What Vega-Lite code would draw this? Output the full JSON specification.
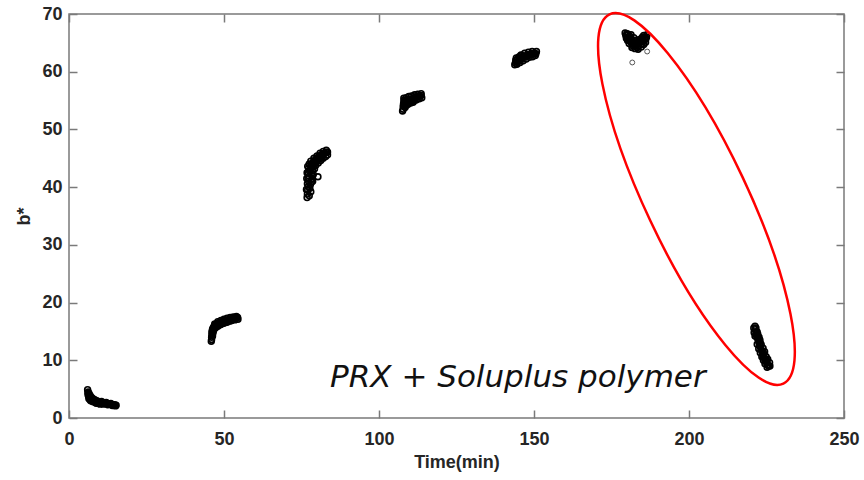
{
  "$schema": "https://vega.github.io/schema/vega-lite/v6.json",
  "width": 775,
  "height": 404,
  "autosize": {"type": "none"},
  "padding": {"left": 69, "top": 14, "right": 20, "bottom": 62},
  "background": "white",
  "config": {
    "view": {"stroke": "#7a7a7a", "strokeWidth": 1.5},
    "axis": {
      "grid": false,
      "domain": false,
      "labelFont": "Liberation Sans",
      "labelFontWeight": "bold",
      "labelFontSize": 18,
      "labelColor": "#262626",
      "labelFlush": false,
      "titleFont": "Liberation Sans",
      "titleFontWeight": "bold",
      "titleFontSize": 18,
      "titleColor": "#262626",
      "tickColor": "#7a7a7a",
      "tickWidth": 1.5,
      "tickSize": -8
    }
  },
  "datasets": {
    "pts": [
      {"t": 6.0, "b": 4.9}, {"t": 6.1, "b": 4.3}, {"t": 6.2, "b": 4.0}, {"t": 6.3, "b": 3.8}, {"t": 6.5, "b": 3.9}, {"t": 6.6, "b": 3.6}, {"t": 6.8, "b": 3.5}, {"t": 7.0, "b": 3.4}, {"t": 7.2, "b": 3.3}, {"t": 7.4, "b": 3.2}, {"t": 7.6, "b": 3.1}, {"t": 7.8, "b": 3.2}, {"t": 8.0, "b": 3.0}, {"t": 8.3, "b": 2.9}, {"t": 8.6, "b": 2.95}, {"t": 8.9, "b": 2.8}, {"t": 9.2, "b": 2.85}, {"t": 9.5, "b": 2.7}, {"t": 9.8, "b": 2.75}, {"t": 10.1, "b": 2.65}, {"t": 10.4, "b": 2.7}, {"t": 10.7, "b": 2.6}, {"t": 11.0, "b": 2.6}, {"t": 11.3, "b": 2.55}, {"t": 11.6, "b": 2.5}, {"t": 11.9, "b": 2.55}, {"t": 12.2, "b": 2.45}, {"t": 12.5, "b": 2.5}, {"t": 12.8, "b": 2.4}, {"t": 13.1, "b": 2.4}, {"t": 13.4, "b": 2.35}, {"t": 13.7, "b": 2.35}, {"t": 14.0, "b": 2.3}, {"t": 14.3, "b": 2.3}, {"t": 14.6, "b": 2.25}, {"t": 14.9, "b": 2.25}, {"t": 15.2, "b": 2.2}, {"t": 6.4, "b": 3.4}, {"t": 7.0, "b": 3.0}, {"t": 7.8, "b": 2.8}, {"t": 8.8, "b": 2.55}, {"t": 10.0, "b": 2.4},
      {"t": 6.2, "b": 4.5}, {"t": 6.5, "b": 4.2}, {"t": 6.8, "b": 3.9}, {"t": 7.2, "b": 3.6}, {"t": 7.6, "b": 3.4}, {"t": 8.2, "b": 3.2}, {"t": 9.0, "b": 3.0}, {"t": 10.5, "b": 2.85}, {"t": 12.0, "b": 2.7}, {"t": 13.5, "b": 2.5}, {"t": 6.7, "b": 3.2}, {"t": 7.4, "b": 2.95}, {"t": 8.5, "b": 2.7}, {"t": 9.5, "b": 2.55}, {"t": 11.0, "b": 2.4}, {"t": 12.5, "b": 2.3}, {"t": 14.0, "b": 2.15}, {"t": 15.0, "b": 2.1},
      {"t": 46.0, "b": 13.6}, {"t": 46.0, "b": 14.0}, {"t": 46.1, "b": 14.4}, {"t": 46.1, "b": 14.8}, {"t": 46.2, "b": 15.1}, {"t": 46.3, "b": 15.4}, {"t": 46.5, "b": 15.6}, {"t": 46.7, "b": 15.8}, {"t": 47.0, "b": 15.9}, {"t": 47.3, "b": 16.1}, {"t": 47.6, "b": 16.2}, {"t": 48.0, "b": 16.3}, {"t": 48.4, "b": 16.5}, {"t": 48.8, "b": 16.5}, {"t": 49.2, "b": 16.7}, {"t": 49.6, "b": 16.7}, {"t": 50.0, "b": 16.8}, {"t": 50.4, "b": 16.9}, {"t": 50.8, "b": 16.9}, {"t": 51.2, "b": 17.0}, {"t": 51.6, "b": 17.0}, {"t": 52.0, "b": 17.1}, {"t": 52.4, "b": 17.1}, {"t": 52.8, "b": 17.2}, {"t": 53.2, "b": 17.2}, {"t": 53.6, "b": 17.3}, {"t": 54.0, "b": 17.3}, {"t": 54.4, "b": 17.4}, {"t": 46.6, "b": 15.2}, {"t": 47.2, "b": 15.6}, {"t": 48.0, "b": 15.9}, {"t": 49.0, "b": 16.2}, {"t": 50.0, "b": 16.4}, {"t": 51.0, "b": 16.6}, {"t": 52.0, "b": 16.8},
      {"t": 45.9, "b": 13.3}, {"t": 46.3, "b": 14.2}, {"t": 46.4, "b": 14.7}, {"t": 46.5, "b": 15.0}, {"t": 46.8, "b": 15.4}, {"t": 47.5, "b": 15.8}, {"t": 48.5, "b": 16.1}, {"t": 49.5, "b": 16.4}, {"t": 50.5, "b": 16.6}, {"t": 51.5, "b": 16.8}, {"t": 52.5, "b": 16.9}, {"t": 53.5, "b": 17.0}, {"t": 54.5, "b": 17.1}, {"t": 47.0, "b": 16.3}, {"t": 48.0, "b": 16.7}, {"t": 49.0, "b": 16.9}, {"t": 50.0, "b": 17.1}, {"t": 51.0, "b": 17.3}, {"t": 52.0, "b": 17.4}, {"t": 53.0, "b": 17.5}, {"t": 54.0, "b": 17.6},
      {"t": 76.8, "b": 38.2}, {"t": 76.9, "b": 38.8}, {"t": 77.0, "b": 39.5}, {"t": 77.2, "b": 40.1}, {"t": 76.9, "b": 40.6}, {"t": 77.3, "b": 41.0}, {"t": 77.1, "b": 41.6}, {"t": 77.5, "b": 41.9}, {"t": 77.2, "b": 42.4}, {"t": 77.6, "b": 42.8}, {"t": 77.3, "b": 43.3}, {"t": 77.8, "b": 43.0}, {"t": 78.0, "b": 43.7}, {"t": 77.5, "b": 44.0}, {"t": 78.2, "b": 42.3}, {"t": 78.4, "b": 41.5}, {"t": 77.9, "b": 40.5}, {"t": 78.3, "b": 43.9}, {"t": 78.6, "b": 44.2}, {"t": 79.0, "b": 44.5}, {"t": 79.4, "b": 44.7}, {"t": 79.8, "b": 44.9}, {"t": 80.2, "b": 45.1}, {"t": 80.6, "b": 45.3}, {"t": 81.0, "b": 45.4}, {"t": 81.4, "b": 45.6}, {"t": 81.8, "b": 45.7}, {"t": 82.2, "b": 45.8}, {"t": 82.6, "b": 45.9}, {"t": 83.0, "b": 46.0}, {"t": 83.4, "b": 46.1}, {"t": 79.2, "b": 44.0}, {"t": 80.0, "b": 44.5}, {"t": 80.8, "b": 44.9}, {"t": 81.6, "b": 45.2}, {"t": 78.8, "b": 43.5}, {"t": 78.5, "b": 42.8}, {"t": 78.0, "b": 39.2}, {"t": 80.3, "b": 41.8},
      {"t": 77.5, "b": 38.5}, {"t": 77.7, "b": 39.8}, {"t": 78.2, "b": 40.9}, {"t": 76.6, "b": 39.6}, {"t": 76.7, "b": 41.5}, {"t": 76.8, "b": 42.5}, {"t": 77.0, "b": 43.6}, {"t": 78.6, "b": 41.0}, {"t": 78.8, "b": 42.2}, {"t": 79.2, "b": 43.2}, {"t": 79.6, "b": 43.8}, {"t": 80.4, "b": 44.2}, {"t": 81.2, "b": 44.6}, {"t": 82.0, "b": 45.0}, {"t": 82.8, "b": 45.3}, {"t": 83.4, "b": 45.6}, {"t": 78.0, "b": 44.5}, {"t": 79.0, "b": 45.0}, {"t": 80.0, "b": 45.4}, {"t": 81.0, "b": 45.9}, {"t": 82.0, "b": 46.2}, {"t": 83.0, "b": 46.4},
      {"t": 107.8, "b": 53.5}, {"t": 107.8, "b": 54.0}, {"t": 107.9, "b": 54.4}, {"t": 108.0, "b": 54.8}, {"t": 108.3, "b": 54.2}, {"t": 108.5, "b": 54.9}, {"t": 108.7, "b": 54.5}, {"t": 109.0, "b": 55.0}, {"t": 109.3, "b": 54.8}, {"t": 109.6, "b": 55.2}, {"t": 110.0, "b": 55.1}, {"t": 110.4, "b": 55.3}, {"t": 110.8, "b": 55.3}, {"t": 111.2, "b": 55.5}, {"t": 111.6, "b": 55.5}, {"t": 112.0, "b": 55.6}, {"t": 112.4, "b": 55.7}, {"t": 112.8, "b": 55.7}, {"t": 113.2, "b": 55.8}, {"t": 113.6, "b": 55.9}, {"t": 109.8, "b": 54.7}, {"t": 110.6, "b": 54.9}, {"t": 111.4, "b": 55.1}, {"t": 108.2, "b": 55.1},
      {"t": 107.6, "b": 53.2}, {"t": 108.4, "b": 53.8}, {"t": 108.9, "b": 54.2}, {"t": 109.5, "b": 54.4}, {"t": 110.2, "b": 54.6}, {"t": 111.0, "b": 54.7}, {"t": 112.0, "b": 55.1}, {"t": 113.0, "b": 55.3}, {"t": 113.8, "b": 55.5}, {"t": 108.0, "b": 55.4}, {"t": 108.8, "b": 55.5}, {"t": 109.6, "b": 55.7}, {"t": 110.5, "b": 55.8}, {"t": 111.5, "b": 56.0}, {"t": 112.5, "b": 56.1}, {"t": 113.6, "b": 56.2},
      {"t": 144.0, "b": 61.5}, {"t": 144.1, "b": 62.0}, {"t": 144.4, "b": 61.7}, {"t": 144.7, "b": 62.2}, {"t": 145.0, "b": 61.9}, {"t": 145.4, "b": 62.3}, {"t": 145.8, "b": 62.2}, {"t": 146.2, "b": 62.5}, {"t": 146.6, "b": 62.5}, {"t": 147.0, "b": 62.7}, {"t": 147.4, "b": 62.7}, {"t": 147.8, "b": 62.9}, {"t": 148.2, "b": 62.9}, {"t": 148.6, "b": 63.0}, {"t": 149.0, "b": 63.0}, {"t": 149.4, "b": 63.1}, {"t": 149.8, "b": 63.1}, {"t": 150.2, "b": 63.2}, {"t": 150.6, "b": 63.1}, {"t": 145.2, "b": 62.6}, {"t": 146.0, "b": 62.8},
      {"t": 143.8, "b": 61.2}, {"t": 144.5, "b": 61.3}, {"t": 145.5, "b": 61.6}, {"t": 146.5, "b": 61.9}, {"t": 147.5, "b": 62.2}, {"t": 148.5, "b": 62.5}, {"t": 149.5, "b": 62.6}, {"t": 150.4, "b": 62.8}, {"t": 144.3, "b": 62.4}, {"t": 145.8, "b": 62.9}, {"t": 147.0, "b": 63.2}, {"t": 148.2, "b": 63.4}, {"t": 149.4, "b": 63.5}, {"t": 150.8, "b": 63.5},
      {"t": 179.6, "b": 66.3}, {"t": 179.8, "b": 65.8}, {"t": 180.2, "b": 66.0}, {"t": 180.5, "b": 65.5}, {"t": 180.8, "b": 65.8}, {"t": 181.1, "b": 65.3}, {"t": 181.4, "b": 65.0}, {"t": 181.6, "b": 65.5}, {"t": 182.0, "b": 64.9}, {"t": 182.3, "b": 64.6}, {"t": 182.6, "b": 64.9}, {"t": 183.0, "b": 64.5}, {"t": 183.3, "b": 64.8}, {"t": 183.6, "b": 64.4}, {"t": 184.0, "b": 64.9}, {"t": 184.3, "b": 65.2}, {"t": 184.6, "b": 64.8}, {"t": 184.9, "b": 65.4}, {"t": 185.2, "b": 65.6}, {"t": 185.5, "b": 65.3}, {"t": 185.8, "b": 65.9}, {"t": 186.1, "b": 65.7}, {"t": 186.3, "b": 66.0}, {"t": 180.0, "b": 66.6}, {"t": 181.0, "b": 66.1}, {"t": 182.5, "b": 65.4}, {"t": 184.0, "b": 65.6}, {"t": 185.0, "b": 66.0}, {"t": 181.8, "b": 64.5}, {"t": 183.4, "b": 64.2},
      {"t": 179.4, "b": 66.7}, {"t": 180.3, "b": 66.5}, {"t": 181.3, "b": 66.4}, {"t": 182.2, "b": 65.9}, {"t": 183.0, "b": 65.4}, {"t": 183.8, "b": 65.2}, {"t": 184.6, "b": 65.7}, {"t": 185.4, "b": 66.3}, {"t": 186.4, "b": 66.4}, {"t": 180.7, "b": 64.9}, {"t": 181.6, "b": 64.2}, {"t": 182.6, "b": 64.0}, {"t": 183.6, "b": 63.9}, {"t": 184.6, "b": 64.3}, {"t": 185.4, "b": 64.7}, {"t": 186.0, "b": 65.1}, {"t": 180.2, "b": 65.4},
      {"t": 221.3, "b": 15.9}, {"t": 221.4, "b": 15.3}, {"t": 221.6, "b": 14.8}, {"t": 221.8, "b": 14.3}, {"t": 222.0, "b": 13.9}, {"t": 222.3, "b": 13.6}, {"t": 222.5, "b": 13.2}, {"t": 222.7, "b": 12.8}, {"t": 222.9, "b": 12.4}, {"t": 223.2, "b": 12.0}, {"t": 223.5, "b": 11.6}, {"t": 223.7, "b": 11.2}, {"t": 223.9, "b": 10.8}, {"t": 224.2, "b": 10.5}, {"t": 224.5, "b": 10.1}, {"t": 224.8, "b": 9.8}, {"t": 225.1, "b": 9.5}, {"t": 225.4, "b": 9.2}, {"t": 225.7, "b": 9.0}, {"t": 222.0, "b": 14.9}, {"t": 223.0, "b": 13.0}, {"t": 224.0, "b": 11.3}, {"t": 225.0, "b": 10.0}, {"t": 221.6, "b": 15.6}, {"t": 222.2, "b": 14.5},
      {"t": 220.9, "b": 15.6}, {"t": 221.0, "b": 14.8}, {"t": 221.3, "b": 14.2}, {"t": 222.6, "b": 14.0}, {"t": 222.9, "b": 13.5}, {"t": 223.3, "b": 12.7}, {"t": 223.9, "b": 12.1}, {"t": 224.4, "b": 11.5}, {"t": 224.9, "b": 10.6}, {"t": 225.4, "b": 10.2}, {"t": 226.0, "b": 9.6}, {"t": 222.0, "b": 12.8}, {"t": 222.5, "b": 12.0}, {"t": 223.0, "b": 11.3}, {"t": 223.5, "b": 10.6}, {"t": 224.0, "b": 10.0}, {"t": 224.5, "b": 9.4}, {"t": 225.2, "b": 8.8}, {"t": 226.1, "b": 9.0}
    ],
    "outliers": [{"t": 181.7, "b": 61.6}, {"t": 186.5, "b": 63.5}],
    "ellipse": [{"t": 202.4, "b": 37.95}],
    "note": [{"t": 144.8, "b": 5.37, "label": "PRX + Soluplus polymer"}]
  },
  "layer": [
    {
      "data": {"name": "pts"},
      "mark": {"type": "point", "shape": "circle", "filled": false, "stroke": "black", "strokeWidth": 1.6, "size": 34, "opacity": 1},
      "encoding": {
        "x": {"field": "t", "type": "quantitative", "scale": {"domain": [0, 250], "nice": false, "zero": false},
              "axis": {"orient": "bottom", "values": [0, 50, 100, 150, 200, 250], "title": "Time(min)", "labelPadding": 20, "titlePadding": 5}},
        "y": {"field": "b", "type": "quantitative", "scale": {"domain": [0, 70], "nice": false, "zero": false},
              "axis": {"orient": "left", "values": [0, 10, 20, 30, 40, 50, 60, 70], "title": "b*", "labelPadding": 15, "titlePadding": 8}}
      }
    },
    {
      "data": {"name": "outliers"},
      "mark": {"type": "point", "shape": "circle", "filled": false, "stroke": "#555555", "strokeWidth": 1, "size": 24, "opacity": 1},
      "encoding": {
        "x": {"field": "t", "type": "quantitative", "axis": null},
        "y": {"field": "b", "type": "quantitative", "axis": null}
      }
    },
    {
      "data": {"name": "ellipse"},
      "mark": {"type": "point", "shape": "M -86.9 -184.6 A 204 51 64.8 1 1 86.9 184.6 A 204 51 64.8 1 1 -86.9 -184.6 Z", "filled": false, "stroke": "#ff0000", "strokeWidth": 2.5, "size": 4, "opacity": 1},
      "encoding": {
        "x": {"field": "t", "type": "quantitative", "axis": {"orient": "top", "values": [0, 50, 100, 150, 200, 250], "labels": false, "title": null}},
        "y": {"field": "b", "type": "quantitative", "axis": {"orient": "right", "values": [0, 10, 20, 30, 40, 50, 60, 70], "labels": false, "title": null}}
      }
    },
    {
      "data": {"name": "note"},
      "mark": {"type": "text", "font": "DejaVu Sans", "fontStyle": "italic", "fontSize": 31, "align": "center", "baseline": "alphabetic", "color": "#111111"},
      "encoding": {
        "x": {"field": "t", "type": "quantitative", "axis": null},
        "y": {"field": "b", "type": "quantitative", "axis": null},
        "text": {"field": "label"}
      }
    }
  ],
  "resolve": {"axis": {"x": "independent", "y": "independent"}}
}
